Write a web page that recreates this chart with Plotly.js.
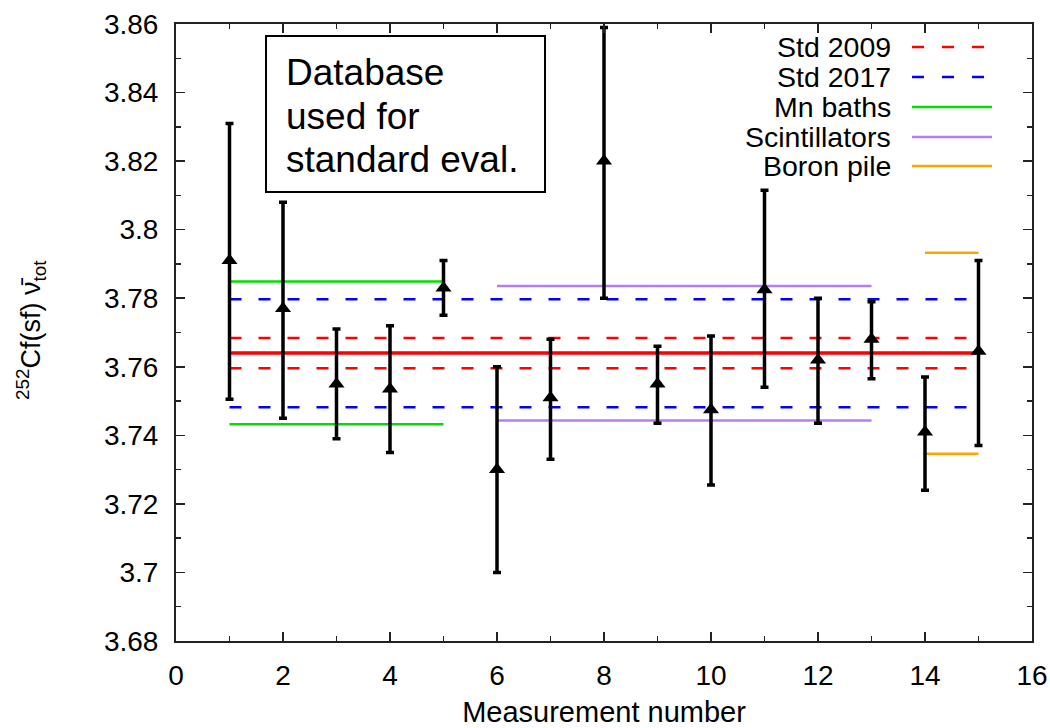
<!DOCTYPE html>
<html>
<head>
<meta charset="utf-8">
<script src="https://cdn.plot.ly/plotly-3.0.1.min.js"></script>
<style>html,body{margin:0;padding:0;background:#fff;}#chart{width:1050px;height:728px;}</style>
</head>
<body>
<div id="chart"></div>
<script>
// Measurements
const measNo   = [1, 2, 3, 4, 5, 6, 7, 8, 9, 10, 11, 12, 13, 14, 15];
const nuTot    = [3.791, 3.777, 3.755, 3.7535, 3.783, 3.730, 3.751, 3.820, 3.755, 3.7475, 3.7825, 3.762, 3.768, 3.741, 3.7645];
const errUp    = [3.831, 3.808, 3.771, 3.772, 3.791, 3.760, 3.768, 3.859, 3.766, 3.769, 3.8115, 3.780, 3.779, 3.757, 3.791];
const errDown  = [3.7505, 3.745, 3.739, 3.735, 3.775, 3.700, 3.733, 3.780, 3.7435, 3.7255, 3.754, 3.7435, 3.7565, 3.724, 3.737];

// Reference levels
const stdMean       = 3.7640;
const std2009       = [3.7596, 3.7684];
const std2017       = [3.7482, 3.7797];
const mnBaths       = [3.7432, 3.7849];
const scintillators = [3.7443, 3.7836];
const boronPile     = [3.7346, 3.7933];
const stdRange  = [1, 15];
const mnRange   = [1, 5];
const scRange   = [6, 13];
const boRange   = [14, 15];

// Axis ticks
const xTickVals = [0, 2, 4, 6, 8, 10, 12, 14, 16];
const xTickText = ['0', '2', '4', '6', '8', '10', '12', '14', '16'];
const yTickVals = [3.68, 3.70, 3.72, 3.74, 3.76, 3.78, 3.80, 3.82, 3.84, 3.86];
const yTickText = ['3.68', '3.7', '3.72', '3.74', '3.76', '3.78', '3.8', '3.82', '3.84', '3.86'];

// Legend entries
const legendNames = ['Std 2009', 'Std 2017', 'Mn baths', 'Scintillators', 'Boron pile'];
const legendColors = ['#ff0000', '#0000ff', '#00e000', '#b57cf5', '#ffa500'];
const legendDash = ['12px,18px', '12px,18px', 'solid', 'solid', 'solid'];

// Text box lines
const boxLines = ['Database', 'used for', 'standard eval.'];
const yTitle = '<sup>252</sup>Cf(sf) ν\u0304<sub>tot</sub>';
const xTitle = 'Measurement number';

const FONT = 'Liberation Sans, Arial, Helvetica, sans-serif';
const DASH = '12px,17px';

function hline(range, v, color, width, dash) {
  return {x: range, y: [v, v], mode: 'lines', type: 'scatter', showlegend: false, hoverinfo: 'skip',
          line: {color: color, width: width, dash: dash}};
}

const traces = [];
std2009.forEach(v => traces.push(hline(stdRange, v, legendColors[0], 2.5, DASH)));
std2017.forEach(v => traces.push(hline(stdRange, v, legendColors[1], 2.5, DASH)));
mnBaths.forEach(v => traces.push(hline(mnRange, v, legendColors[2], 2.5, 'solid')));
scintillators.forEach(v => traces.push(hline(scRange, v, legendColors[3], 2.5, 'solid')));
boronPile.forEach(v => traces.push(hline(boRange, v, legendColors[4], 2.5, 'solid')));
traces.push(hline(stdRange, stdMean, '#ff0000', 3.5, 'solid'));

traces.push({
  x: measNo, y: nuTot, type: 'scatter', mode: 'markers', showlegend: false,
  marker: {symbol: 'triangle-up', size: 14, color: '#000'},
  error_y: {type: 'data', symmetric: false,
            array: errUp.map((u, i) => u - nuTot[i]),
            arrayminus: errDown.map((d, i) => nuTot[i] - d),
            color: '#000', thickness: 3.5, width: 4}
});

// plot area pixel geometry for paper conversion
const L = 176, R = 1032, T = 24, B = 641;
const px = x => (x - L) / (R - L);
const py = y => (B - y) / (B - T);

const shapes = [
  {type: 'rect', xref: 'paper', yref: 'paper', x0: px(266), x1: px(545), y0: py(192), y1: py(36),
   line: {color: '#000', width: 2}, fillcolor: 'rgba(255,255,255,0)'}
];
const annotations = [
  {xref: 'paper', yref: 'paper', x: px(31), y: py(330), xanchor: 'center', yanchor: 'middle', textangle: -90,
   showarrow: false, text: yTitle, font: {family: FONT, size: 27, color: '#000'}}
];
const boxY = [72, 116, 159];
boxLines.forEach((t, i) => {
  annotations.push({xref: 'paper', yref: 'paper', x: px(284), y: py(boxY[i]), xanchor: 'left', yanchor: 'middle',
    align: 'left', showarrow: false, text: t, font: {family: FONT, size: 37, color: '#000'}});
});
const rowY = [47, 77, 107, 137, 166];
legendNames.forEach((n, i) => {
  annotations.push({xref: 'paper', yref: 'paper', x: px(893), y: py(rowY[i]), xanchor: 'right', yanchor: 'middle',
    showarrow: false, text: n, font: {family: FONT, size: 28.5, color: '#000'}});
  shapes.push({type: 'line', xref: 'paper', yref: 'paper', x0: px(912), x1: px(992), y0: py(rowY[i]), y1: py(rowY[i]),
    line: {color: legendColors[i], width: 2.5, dash: legendDash[i]}});
});

const axisCommon = {
  showgrid: false, zeroline: false, showline: true, linecolor: '#222', linewidth: 2,
  mirror: 'ticks', ticks: 'inside', ticklen: 9, tickwidth: 1.5, tickcolor: '#222',
  tickfont: {family: FONT, size: 28, color: '#000'}, tickmode: 'array'
};

const layout = {
  width: 1050, height: 728,
  margin: {l: L, r: 1050 - R, t: T, b: 728 - B},
  paper_bgcolor: '#fff', plot_bgcolor: '#fff',
  showlegend: false,
  xaxis: Object.assign({}, axisCommon, {
    range: [0, 16], tickvals: xTickVals, ticktext: xTickText, ticklabelstandoff: 8,
    minor: {dtick: 1, tick0: 0, ticks: 'inside', ticklen: 5, tickwidth: 1.5, tickcolor: '#222'},
    title: {text: xTitle, font: {family: FONT, size: 29, color: '#000'}, standoff: 14}
  }),
  yaxis: Object.assign({}, axisCommon, {
    range: [3.68, 3.86], tickvals: yTickVals, ticktext: yTickText, ticklabelstandoff: 10,
    minor: {dtick: 0.01, tick0: 3.68, ticks: 'inside', ticklen: 5, tickwidth: 1.5, tickcolor: '#222'}
  }),
  shapes: shapes,
  annotations: annotations
};

Plotly.newPlot('chart', traces, layout, {displayModeBar: false, staticPlot: true});
</script>
</body>
</html>
